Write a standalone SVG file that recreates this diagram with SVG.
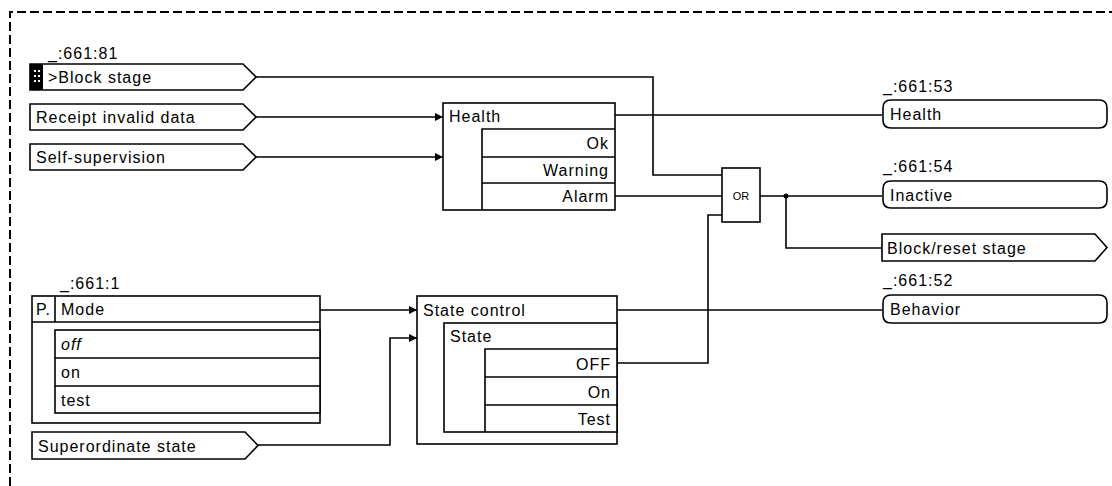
<svg xmlns="http://www.w3.org/2000/svg" width="1112" height="486" viewBox="0 0 1112 486">
<defs>
<marker id="arr" viewBox="0 0 8 8" refX="8" refY="4" markerWidth="8" markerHeight="8" markerUnits="userSpaceOnUse" orient="auto">
<path d="M0,0 L8,4 L0,8 Z" fill="#000"/>
</marker>
</defs>
<style>
.t{font-family:"Liberation Sans",Arial,sans-serif;font-size:16px;letter-spacing:1px;fill:#000}
.r{text-anchor:end}
.s{fill:#fff;stroke:#000;stroke-width:1.6}
.n{fill:none;stroke:#000;stroke-width:1.6}
.c{fill:none;stroke:#000;stroke-width:1.6}
.b{fill:none;stroke:#000;stroke-width:2;stroke-dasharray:9 4}
</style>
<rect width="1112" height="486" fill="#fff"/>
<path class="b" d="M10,486 V12 H1112"/>

<g id="connectors">
<path class="c" d="M256,77 H653 V175 H722"/>
<path class="c" d="M256,117 H443" marker-end="url(#arr)"/>
<path class="c" d="M256,157 H443" marker-end="url(#arr)"/>
<path class="c" d="M615,115 H882"/>
<path class="c" d="M615,196 H722"/>
<path class="c" d="M617,363 H708 V215 H722"/>
<path class="c" d="M760,196 H882"/>
<path class="c" d="M786,196 V248 H882"/>
<circle cx="786" cy="196" r="2.5" fill="#000"/>
<path class="c" d="M320,310 H417" marker-end="url(#arr)"/>
<path class="c" d="M258,445 H390 V338 H417" marker-end="url(#arr)"/>
<path class="c" d="M617,310 H882"/>
</g>

<g id="block-stage">
<text class="t" x="48" y="59">_:661:81</text>
<path class="s" d="M30,64 H243 L256,77 L243,90 H30 Z"/>
<rect x="30" y="64" width="13" height="26" fill="#000"/>
<g fill="#fff">
<rect x="34" y="70" width="2" height="2"/><rect x="38" y="70" width="2" height="2"/>
<rect x="34" y="75" width="2" height="2"/><rect x="38" y="75" width="2" height="2"/>
<rect x="34" y="80" width="2" height="2"/><rect x="38" y="80" width="2" height="2"/>
</g>
<text class="t" x="48" y="83">&gt;Block stage</text>
</g>

<g id="receipt-invalid-data">
<path class="s" d="M30,104 H243 L256,117 L243,130 H30 Z"/>
<text class="t" x="36" y="123">Receipt invalid data</text>
</g>

<g id="self-supervision">
<path class="s" d="M30,144 H243 L256,157 L243,170 H30 Z"/>
<text class="t" x="36" y="163">Self-supervision</text>
</g>

<g id="health-block">
<rect class="s" x="443" y="103" width="172" height="107"/>
<path class="n" d="M482,210 V129 H615 M482,157 H615 M482,183 H615"/>
<text class="t" x="449" y="122">Health</text>
<text class="t r" x="609" y="149">Ok</text>
<text class="t r" x="609" y="176">Warning</text>
<text class="t r" x="609" y="202">Alarm</text>
</g>

<g id="or-gate">
<rect class="s" x="722" y="168" width="38" height="54"/>
<text class="t" x="741" y="200" text-anchor="middle" style="font-size:11px;letter-spacing:0">OR</text>
</g>

<g id="out-health">
<text class="t" x="883" y="92">_:661:53</text>
<path class="s" d="M891,100 H1099 Q1107,100 1107,108 V120 Q1107,128 1099,128 H891 Q883,128 883,120 V108 Q883,100 891,100 Z"/>
<text class="t" x="890" y="120">Health</text>
</g>

<g id="out-inactive">
<text class="t" x="883" y="172">_:661:54</text>
<path class="s" d="M891,181 H1099 Q1107,181 1107,189 V200 Q1107,208 1099,208 H891 Q883,208 883,200 V189 Q883,181 891,181 Z"/>
<text class="t" x="890" y="201">Inactive</text>
</g>

<g id="out-block-reset">
<path class="s" d="M882,234 H1095 L1107,247.5 L1095,261 H882 Z"/>
<text class="t" x="887" y="254">Block/reset stage</text>
</g>

<g id="out-behavior">
<text class="t" x="883" y="286">_:661:52</text>
<path class="s" d="M891,295 H1099 Q1107,295 1107,303 V315 Q1107,323 1099,323 H891 Q883,323 883,315 V303 Q883,295 891,295 Z"/>
<text class="t" x="890" y="315">Behavior</text>
</g>

<g id="mode">
<text class="t" x="60" y="289">_:661:1</text>
<rect class="s" x="32" y="296" width="288" height="127"/>
<path class="n" d="M32,322 H320 M55,296 V322"/>
<rect class="s" x="55" y="330" width="265" height="83"/>
<path class="n" d="M55,358 H320 M55,386 H320"/>
<text class="t" x="36" y="315">P.</text>
<text class="t" x="61" y="315">Mode</text>
<text class="t" x="61" y="350" font-style="italic">off</text>
<text class="t" x="61" y="378">on</text>
<text class="t" x="61" y="406">test</text>
</g>

<g id="superordinate-state">
<path class="s" d="M32,432 H245 L258,445.5 L245,459 H32 Z"/>
<text class="t" x="38" y="452">Superordinate state</text>
</g>

<g id="state-control">
<rect class="s" x="417" y="296" width="200" height="148"/>
<rect class="s" x="444" y="323" width="173" height="109"/>
<path class="n" d="M485,432 V349 H617 M485,377 H617 M485,405 H617"/>
<text class="t" x="423" y="316">State control</text>
<text class="t" x="450" y="342">State</text>
<text class="t r" x="611" y="370">OFF</text>
<text class="t r" x="611" y="398">On</text>
<text class="t r" x="611" y="425">Test</text>
</g>
</svg>
